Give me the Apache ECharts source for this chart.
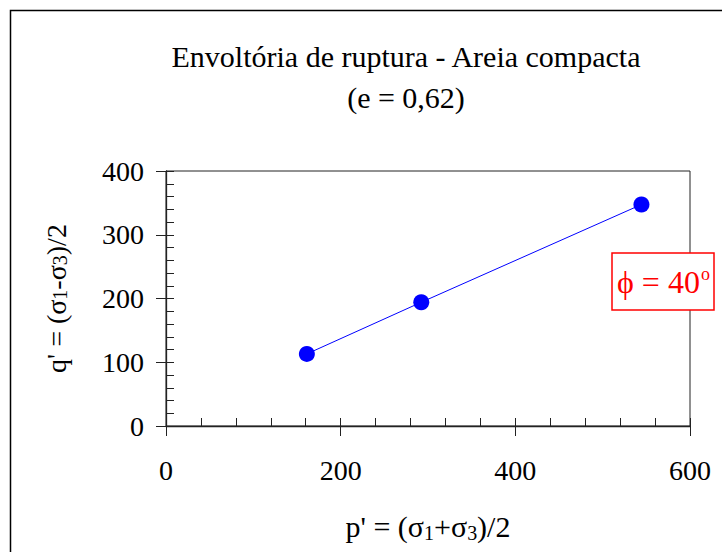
<!DOCTYPE html>
<html>
<head>
<meta charset="utf-8">
<script src="https://cdn.jsdelivr.net/npm/echarts@6/dist/echarts.min.js"></script>
<style>
  html, body { margin: 0; padding: 0; background: #fff; }
  #chart { width: 722px; height: 552px; }
</style>
</head>
<body>
<div id="chart"></div>
<script>
// Mean effective stress p' and deviator q' at failure (kPa)
const pValues = [161.3, 292.3, 544.4];
const qValues = [113.1, 194.1, 347.4];
const xTickLabels = ['0', '200', '400', '600'];
const yTickLabels = ['0', '100', '200', '300', '400'];
const chartTitle = 'Envoltória de ruptura - Areia compacta';
const chartSubtitle = '(e = 0,62)';
const frictionAngle = 40;

const SERIF = '"Liberation Serif", "Times New Roman", "DejaVu Serif", serif';
const AXIS_COLOR = '#222';

const points = pValues.map((p, i) => [p, qValues[i]]);

const chart = echarts.init(document.getElementById('chart'), null, { renderer: 'svg' });

const subStyle = (size, pad) => ({ fontFamily: SERIF, fontSize: size, color: '#000', padding: pad });

chart.setOption({
  backgroundColor: '#fff',
  animation: false,
  title: [{
    text: '{a|ϕ = ' + frictionAngle + '}{o|o}',
    left: 612,
    top: 251,
    padding: [12, 4, 12, 5],
    borderColor: '#ff0000',
    borderWidth: 1.5,
    backgroundColor: '#fff',
    textStyle: {
      rich: {
        a: { fontFamily: SERIF, fontSize: 32, fontWeight: 'normal', color: '#ff0000', lineHeight: 38 },
        o: { fontFamily: SERIF, fontSize: 18, fontWeight: 'normal', color: '#ff0000', padding: [0, 0, 17, 1] }
      }
    }
  }],
  graphic: [
    {
      type: 'rect',
      shape: { x: 10.5, y: 10.5, width: 900, height: 900 },
      style: { fill: 'none', stroke: '#000', lineWidth: 1.5 },
      silent: true
    },
    {
      type: 'text',
      x: 406, y: 56,
      style: { text: chartTitle, font: '30px ' + SERIF, fill: '#000', align: 'center', verticalAlign: 'middle' }
    },
    {
      type: 'text',
      x: 406, y: 97,
      style: { text: chartSubtitle, font: '30px ' + SERIF, fill: '#000', align: 'center', verticalAlign: 'middle' }
    }
  ],
  grid: {
    left: 166, right: 32, top: 171, bottom: 126,
    show: true, borderColor: AXIS_COLOR, borderWidth: 1, backgroundColor: '#fff'
  },
  xAxis: [{
    type: 'value', min: 0, max: 600, interval: 200,
    name: "{m|p' = (σ}{s|1}{m|+σ}{s|3}{m|)/2}",
    nameLocation: 'middle', nameGap: 83,
    nameTextStyle: {
      rich: {
        m: { fontFamily: SERIF, fontSize: 30, color: '#000', lineHeight: 35 },
        s: subStyle(20, [12, 0, 0, 0])
      }
    },
    axisLine: { show: true, lineStyle: { color: AXIS_COLOR, width: 1.3 } },
    axisTick: { show: true, inside: false, length: 10, lineStyle: { color: AXIS_COLOR, width: 1 } },
    minorTick: { show: true, splitNumber: 5, length: -8, lineStyle: { color: AXIS_COLOR, width: 1 } },
    splitLine: { show: false },
    axisLabel: {
      margin: 30, fontFamily: SERIF, fontSize: 28, color: '#000',
      formatter: (v) => xTickLabels[Math.round(v / 200)]
    }
  }, {
    type: 'value', min: 0, max: 600, interval: 200, position: 'bottom', offset: 0,
    axisLine: { show: false },
    axisTick: { show: true, inside: true, length: 8, lineStyle: { color: AXIS_COLOR, width: 1 } },
    axisLabel: { show: false },
    splitLine: { show: false }
  }],
  yAxis: [{
    type: 'value', min: 0, max: 400, interval: 100,
    name: "{m|q' = (σ}{s|1}{m|-σ}{s|3}{m|)/2}",
    nameLocation: 'middle', nameGap: 93, nameRotate: 90,
    nameTextStyle: {
      rich: {
        m: { fontFamily: SERIF, fontSize: 28, color: '#000', lineHeight: 33 },
        s: subStyle(20, [6, 0, 0, 0])
      }
    },
    axisLine: { show: true, lineStyle: { color: AXIS_COLOR, width: 1.3 } },
    axisTick: { show: true, inside: false, length: 10, lineStyle: { color: AXIS_COLOR, width: 1 } },
    minorTick: { show: true, splitNumber: 5, length: -8, lineStyle: { color: AXIS_COLOR, width: 1 } },
    splitLine: { show: false },
    axisLabel: {
      margin: 22, fontFamily: SERIF, fontSize: 28, color: '#000',
      formatter: (v) => yTickLabels[Math.round(v / 100)]
    }
  }, {
    type: 'value', min: 0, max: 400, interval: 100, position: 'left', offset: 0,
    axisLine: { show: false },
    axisTick: { show: true, inside: true, length: 8, lineStyle: { color: AXIS_COLOR, width: 1 } },
    axisLabel: { show: false },
    splitLine: { show: false }
  }],
  series: [{
    type: 'line',
    xAxisIndex: 0, yAxisIndex: 0,
    data: points,
    symbol: 'circle',
    symbolSize: 16,
    itemStyle: { color: '#0000ff' },
    lineStyle: { color: '#0000ff', width: 1 },
    z: 3
  }]
});
</script>
</body>
</html>
